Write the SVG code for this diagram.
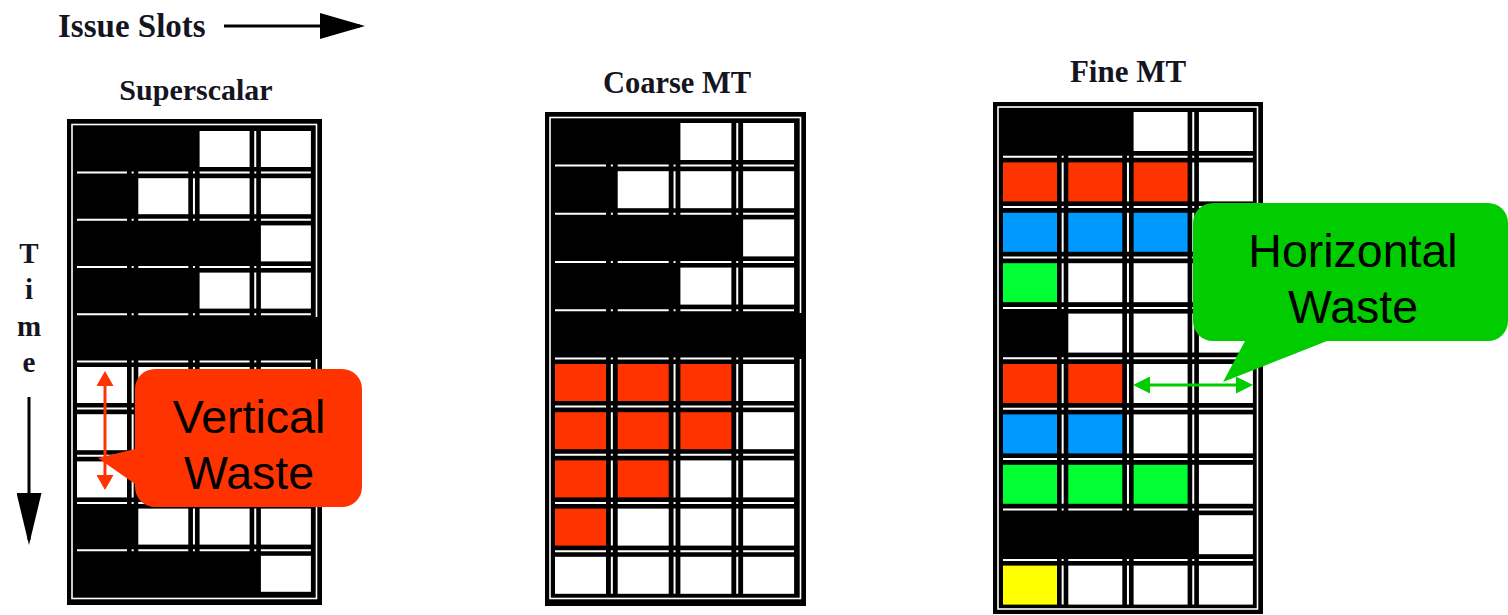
<svg xmlns="http://www.w3.org/2000/svg" width="1508" height="615" viewBox="0 0 1508 615">
<style>
.title{font-family:"Liberation Serif","Times New Roman",serif;font-weight:bold;fill:#15151f}
.call{font-family:"Liberation Sans",Arial,sans-serif;font-size:46.5px;fill:#000;text-anchor:middle}
.frame{fill:#000}
.inner{fill:none;stroke:#fff;stroke-width:1.6}
.hs{fill:none;stroke:#fff;stroke-width:2}
.vs{fill:none;stroke:#fff;stroke-width:2}
.w{fill:#fff}
.r{fill:#ff3300}
.b{fill:#0099ff}
.g{fill:#00ff33}
.y{fill:#ffff00}
</style>
<defs>
<marker id="ahRed" markerUnits="userSpaceOnUse" markerWidth="16" markerHeight="17" refX="9" refY="8.5" orient="auto-start-reverse"><path d="M0,0 L15,8.5 L0,17 Z" fill="#ff3300"/></marker>
<marker id="ahGreen" markerUnits="userSpaceOnUse" markerWidth="18" markerHeight="17" refX="11" refY="8.5" orient="auto-start-reverse"><path d="M0,0 L17,8.5 L0,17 Z" fill="#00cc00"/></marker>
<marker id="ahIssue" markerUnits="userSpaceOnUse" markerWidth="46" markerHeight="26" refX="40" refY="13" orient="auto"><path d="M0,0 L45,13 L0,26 Z" fill="#000"/></marker>
<marker id="ahTime" markerUnits="userSpaceOnUse" markerWidth="53" markerHeight="25" refX="47" refY="12.5" orient="auto"><path d="M0,0 L52,12.5 L0,25 Z" fill="#000"/></marker>
</defs>
<rect width="1508" height="615" fill="#fff"/>

<g id="axis-issue">
<text class="title" x="58" y="37" font-size="33">Issue Slots</text>
</g>
<g id="axis-time">
<text class="title" font-size="29" text-anchor="middle"><tspan x="29" y="263">T</tspan><tspan x="29" y="299">i</tspan><tspan x="29" y="336">m</tspan><tspan x="29" y="372">e</tspan></text>
</g>

<g id="superscalar">
<text class="title" x="196" y="100" font-size="30" text-anchor="middle">Superscalar</text>
<rect class="frame" x="67" y="119" width="255" height="486"/>
<rect class="inner" x="72" y="124.5" width="244.5" height="474"/>
<rect fill="#000" x="311" y="317" width="11" height="42"/>
<path class="hs" stroke-dasharray="50 11.3" d="M77 172.6H311M77 219.8H311M77 267H311M77 314.2H311M77 361.4H311M77 408.6H311M77 455.8H311M77 503H311M77 550.2H311"/>
<path class="hs" stroke-dasharray="2 59.3" d="M131.65 172.6H257M131.65 219.8H257M131.65 267H257M131.65 314.2H257M131.65 361.4H257M131.65 408.6H257M131.65 455.8H257M131.65 503H257M131.65 550.2H257"/>
<path class="vs" d="M255.25 131v36M193.95 178.2v36M255.25 178.2v36M255.25 272.6v36M132.65 367v36M193.95 367v36M255.25 367v36M132.65 414.2v36M193.95 414.2v36M255.25 414.2v36M132.65 461.4v36M193.95 461.4v36M255.25 461.4v36M193.95 508.6v36M255.25 508.6v36"/>
<rect class="w" x="199.6" y="131" width="50" height="36"/><rect class="w" x="260.9" y="131" width="50" height="36"/>
<rect class="w" x="138.3" y="178.2" width="50" height="36"/><rect class="w" x="199.6" y="178.2" width="50" height="36"/><rect class="w" x="260.9" y="178.2" width="50" height="36"/>
<rect class="w" x="260.9" y="225.4" width="50" height="36"/>
<rect class="w" x="199.6" y="272.6" width="50" height="36"/><rect class="w" x="260.9" y="272.6" width="50" height="36"/>
<rect class="w" x="77" y="367" width="50" height="36"/><rect class="w" x="138.3" y="367" width="50" height="36"/><rect class="w" x="199.6" y="367" width="50" height="36"/><rect class="w" x="260.9" y="367" width="50" height="36"/>
<rect class="w" x="77" y="414.2" width="50" height="36"/><rect class="w" x="138.3" y="414.2" width="50" height="36"/><rect class="w" x="199.6" y="414.2" width="50" height="36"/><rect class="w" x="260.9" y="414.2" width="50" height="36"/>
<rect class="w" x="77" y="461.4" width="50" height="36"/><rect class="w" x="138.3" y="461.4" width="50" height="36"/><rect class="w" x="199.6" y="461.4" width="50" height="36"/><rect class="w" x="260.9" y="461.4" width="50" height="36"/>
<rect class="w" x="138.3" y="508.6" width="50" height="36"/><rect class="w" x="199.6" y="508.6" width="50" height="36"/><rect class="w" x="260.9" y="508.6" width="50" height="36"/>
<rect class="w" x="260.9" y="555.8" width="50" height="36"/>
</g>

<g id="coarse-mt">
<text class="title" x="677" y="93" font-size="30.5" text-anchor="middle">Coarse MT</text>
<rect class="frame" x="545" y="112" width="261" height="494"/>
<rect class="inner" x="550" y="117.5" width="250.5" height="481"/>
<rect fill="#000" x="794" y="313" width="12" height="46"/>
<path class="hs" stroke-dasharray="51 11.7" d="M555 165.6H794M555 213.8H794M555 262H794M555 310.2H794M555 358.4H794M555 406.6H794M555 454.8H794M555 503H794M555 551.2H794"/>
<path class="hs" stroke-dasharray="2 60.7" d="M610.85 165.6H739M610.85 213.8H739M610.85 262H739M610.85 310.2H739M610.85 358.4H739M610.85 406.6H739M610.85 454.8H739M610.85 503H739M610.85 551.2H739"/>
<path class="vs" d="M737.25 123v37M674.55 171.2v37M737.25 171.2v37M737.25 267.6v37M611.85 364v37M674.55 364v37M737.25 364v37M611.85 412.2v37M674.55 412.2v37M737.25 412.2v37M611.85 460.4v37M674.55 460.4v37M737.25 460.4v37M611.85 508.6v37M674.55 508.6v37M737.25 508.6v37M611.85 556.8v37M674.55 556.8v37M737.25 556.8v37"/>
<rect class="w" x="680.4" y="123" width="51" height="37"/><rect class="w" x="743.1" y="123" width="51" height="37"/>
<rect class="w" x="617.7" y="171.2" width="51" height="37"/><rect class="w" x="680.4" y="171.2" width="51" height="37"/><rect class="w" x="743.1" y="171.2" width="51" height="37"/>
<rect class="w" x="743.1" y="219.4" width="51" height="37"/>
<rect class="w" x="680.4" y="267.6" width="51" height="37"/><rect class="w" x="743.1" y="267.6" width="51" height="37"/>
<rect class="r" x="555" y="364" width="51" height="37"/><rect class="r" x="617.7" y="364" width="51" height="37"/><rect class="r" x="680.4" y="364" width="51" height="37"/><rect class="w" x="743.1" y="364" width="51" height="37"/>
<rect class="r" x="555" y="412.2" width="51" height="37"/><rect class="r" x="617.7" y="412.2" width="51" height="37"/><rect class="r" x="680.4" y="412.2" width="51" height="37"/><rect class="w" x="743.1" y="412.2" width="51" height="37"/>
<rect class="r" x="555" y="460.4" width="51" height="37"/><rect class="r" x="617.7" y="460.4" width="51" height="37"/><rect class="w" x="680.4" y="460.4" width="51" height="37"/><rect class="w" x="743.1" y="460.4" width="51" height="37"/>
<rect class="r" x="555" y="508.6" width="51" height="37"/><rect class="w" x="617.7" y="508.6" width="51" height="37"/><rect class="w" x="680.4" y="508.6" width="51" height="37"/><rect class="w" x="743.1" y="508.6" width="51" height="37"/>
<rect class="w" x="555" y="556.8" width="51" height="37"/><rect class="w" x="617.7" y="556.8" width="51" height="37"/><rect class="w" x="680.4" y="556.8" width="51" height="37"/><rect class="w" x="743.1" y="556.8" width="51" height="37"/>
</g>

<g id="fine-mt">
<text class="title" x="1128" y="82" font-size="31" text-anchor="middle">Fine MT</text>
<rect class="frame" x="993" y="102" width="270" height="512"/>
<rect class="inner" x="998" y="107" width="259.5" height="502"/>
<path class="hs" stroke-dasharray="54 11.3" d="M1003 156.7H1253M1003 207.1H1253M1003 257.5H1253M1003 307.9H1253M1003 358.3H1253M1003 408.7H1253M1003 459.1H1253M1003 509.5H1253M1003 559.9H1253"/>
<path class="hs" stroke-dasharray="2 63.3" d="M1061.65 156.7H1195M1061.65 207.1H1195M1061.65 257.5H1195M1061.65 307.9H1195M1061.65 358.3H1195M1061.65 408.7H1195M1061.65 459.1H1195M1061.65 509.5H1195M1061.65 559.9H1195"/>
<path class="vs" d="M1193.25 112v39M1062.65 162.4v39M1127.95 162.4v39M1193.25 162.4v39M1062.65 212.8v39M1127.95 212.8v39M1193.25 212.8v39M1062.65 263.2v39M1127.95 263.2v39M1193.25 263.2v39M1127.95 313.6v39M1193.25 313.6v39M1062.65 364v39M1127.95 364v39M1193.25 364v39M1062.65 414.4v39M1127.95 414.4v39M1193.25 414.4v39M1062.65 464.8v39M1127.95 464.8v39M1193.25 464.8v39M1062.65 565.6v39M1127.95 565.6v39M1193.25 565.6v39"/>
<rect class="w" x="1133.6" y="112" width="54" height="39"/><rect class="w" x="1198.9" y="112" width="54" height="39"/>
<rect class="r" x="1003" y="162.4" width="54" height="39"/><rect class="r" x="1068.3" y="162.4" width="54" height="39"/><rect class="r" x="1133.6" y="162.4" width="54" height="39"/><rect class="w" x="1198.9" y="162.4" width="54" height="39"/>
<rect class="b" x="1003" y="212.8" width="54" height="39"/><rect class="b" x="1068.3" y="212.8" width="54" height="39"/><rect class="b" x="1133.6" y="212.8" width="54" height="39"/><rect class="w" x="1198.9" y="212.8" width="54" height="39"/>
<rect class="g" x="1003" y="263.2" width="54" height="39"/><rect class="w" x="1068.3" y="263.2" width="54" height="39"/><rect class="w" x="1133.6" y="263.2" width="54" height="39"/><rect class="w" x="1198.9" y="263.2" width="54" height="39"/>
<rect class="w" x="1068.3" y="313.6" width="54" height="39"/><rect class="w" x="1133.6" y="313.6" width="54" height="39"/><rect class="w" x="1198.9" y="313.6" width="54" height="39"/>
<rect class="r" x="1003" y="364" width="54" height="39"/><rect class="r" x="1068.3" y="364" width="54" height="39"/><rect class="w" x="1133.6" y="364" width="54" height="39"/><rect class="w" x="1198.9" y="364" width="54" height="39"/>
<rect class="b" x="1003" y="414.4" width="54" height="39"/><rect class="b" x="1068.3" y="414.4" width="54" height="39"/><rect class="w" x="1133.6" y="414.4" width="54" height="39"/><rect class="w" x="1198.9" y="414.4" width="54" height="39"/>
<rect class="g" x="1003" y="464.8" width="54" height="39"/><rect class="g" x="1068.3" y="464.8" width="54" height="39"/><rect class="g" x="1133.6" y="464.8" width="54" height="39"/><rect class="w" x="1198.9" y="464.8" width="54" height="39"/>
<rect class="w" x="1198.9" y="515.2" width="54" height="39"/>
<rect class="y" x="1003" y="565.6" width="54" height="39"/><rect class="w" x="1068.3" y="565.6" width="54" height="39"/><rect class="w" x="1133.6" y="565.6" width="54" height="39"/><rect class="w" x="1198.9" y="565.6" width="54" height="39"/>
</g>

<g id="callout-vertical">
<path fill="#ff3300" d="M155,369 H342 A20,20 0 0 1 362,389 V487 A20,20 0 0 1 342,507 H155 A20,20 0 0 1 135,487 V484 L98,458 L135,449 V389 A20,20 0 0 1 155,369 Z"/>
<text class="call" x="249" y="433">Vertical</text>
<text class="call" x="249" y="489">Waste</text>
</g>

<g id="callout-horizontal">
<path fill="#00cc00" d="M1213,203 H1488 A20,20 0 0 1 1508,223 V321 A20,20 0 0 1 1488,341 H1327 L1223,382 L1245,341 H1213 A20,20 0 0 1 1193,321 V223 A20,20 0 0 1 1213,203 Z"/>
<text class="call" x="1353" y="267">Horizontal</text>
<text class="call" x="1353" y="323">Waste</text>
</g>

<g id="connectors">
<line x1="224" y1="26" x2="360" y2="26" stroke="#000" stroke-width="3" marker-end="url(#ahIssue)"/>
<line x1="29" y1="397" x2="29" y2="540" stroke="#000" stroke-width="3" marker-end="url(#ahTime)"/>
<line x1="105" y1="377" x2="105" y2="484" stroke="#ff3300" stroke-width="3" marker-start="url(#ahRed)" marker-end="url(#ahRed)"/>
<line x1="1139" y1="385" x2="1247" y2="385" stroke="#00cc00" stroke-width="3" marker-start="url(#ahGreen)" marker-end="url(#ahGreen)"/>
</g>
</svg>
